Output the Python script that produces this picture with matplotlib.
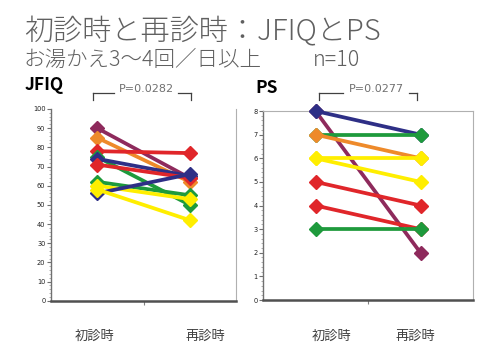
import matplotlib
matplotlib.use("Agg")
import matplotlib.pyplot as plt
from matplotlib.ticker import MultipleLocator

plt.rcParams['font.family'] = ['Noto Sans CJK JP', 'DejaVu Sans']

categories = ["初診時", "再診時"]
title = "初診時と再診時：JFIQとPS"
subtitle = "お湯かえ3〜4回／日以上"
n_label = "n=10"

jfiq_colors = ["#8E2A5C", "#EE8A2A", "#E0262A", "#1E9A3C", "#2E2F86",
               "#E0262A", "#1E9A3C", "#FFEE00", "#2E2F86", "#FFEE00"]
jfiq_first = [90, 85, 78, 75, 74, 71, 62, 60, 56, 58]
jfiq_second = [64, 62, 77, 50, 65, 64, 55, 53, 66, 42]

ps_colors = ["#8E2A5C", "#2E2F86", "#1E9A3C", "#EE8A2A", "#FFEE00",
             "#FFEE00", "#E0262A", "#E0262A", "#1E9A3C"]
ps_first = [8, 8, 7, 7, 6, 6, 5, 4, 3]
ps_second = [2, 7, 7, 6, 6, 5, 4, 3, 3]

p_jfiq = "P=0.0282"
p_ps = "P=0.0277"

fig = plt.figure(figsize=(5.0, 3.59), dpi=100)

def style_axes(ax, ymax, major, minor, right_top):
    ax.set_xlim(0, 2)
    ax.set_ylim(0, ymax)
    ax.yaxis.set_major_locator(MultipleLocator(major))
    ax.yaxis.set_minor_locator(MultipleLocator(minor))
    ax.set_xticks([1])
    ax.set_xticklabels([])
    ax.tick_params(axis='x', length=3, width=0.8, color='#808080', direction='out')
    ax.tick_params(axis='y', which='major', length=3, width=0.8, color='#707070',
                   labelsize=4.8, labelcolor='#202020', pad=1)
    ax.tick_params(axis='y', which='minor', length=1.5, width=0.5, color='#909090')
    ax.spines['left'].set_color('#707070')
    ax.spines['left'].set_linewidth(1.0)
    ax.spines['bottom'].set_color('#505050')
    ax.spines['bottom'].set_linewidth(1.8)
    ax.spines['right'].set_color('#B0B0B0')
    ax.spines['right'].set_linewidth(0.8)
    ax.spines['top'].set_color('#B0B0B0')
    ax.spines['top'].set_linewidth(0.8)
    ax.spines['top'].set_visible(right_top)
    for lab in ax.get_yticklabels():
        lab.set_family('DejaVu Sans')

def draw(ax, firsts, seconds, colors):
    for a, b, c in zip(firsts, seconds, colors):
        ax.plot([0.5, 1.5], [a, b], color=c, lw=2.7, marker='D', ms=7,
                markeredgecolor=c, solid_capstyle='round', clip_on=False, zorder=3)

ax1 = fig.add_axes([0.102, 0.1624, 0.37, 0.534])
style_axes(ax1, 100, 10, 2, False)
draw(ax1, jfiq_first, jfiq_second, jfiq_colors)

ax2 = fig.add_axes([0.526, 0.1643, 0.42, 0.5265])
style_axes(ax2, 8, 1, 0.2, True)
draw(ax2, ps_first, ps_second, ps_colors)

# Title texts
fig.text(0.048, 1 - 32 / 359, title, fontsize=21, color='#606060', va='center', ha='left',
         fontweight='light')
fig.text(0.048, 1 - 60 / 359, subtitle, fontsize=15.5, color='#606060', va='center', ha='left',
         fontweight='light')
fig.text(313 / 500, 1 - 60 / 359, n_label, fontsize=15.5, color='#606060', va='center', ha='left',
         fontweight='light')
fig.text(25 / 500, 1 - 85 / 359, "JFIQ", fontsize=12.5, fontweight='bold', color='black', va='center', ha='left')
fig.text(255 / 500, 1 - 88 / 359, "PS", fontsize=12.5, fontweight='bold', color='black', va='center', ha='left')

def bracket(x0, x1, ytop, ybot, label, tx0, tx1):
    c = '#404040'
    fig.add_artist(plt.Line2D([x0 / 500, x0 / 500], [1 - ybot / 359, 1 - ytop / 359], color=c, lw=0.9))
    fig.add_artist(plt.Line2D([x1 / 500, x1 / 500], [1 - ybot / 359, 1 - ytop / 359], color=c, lw=0.9))
    fig.add_artist(plt.Line2D([x0 / 500, tx0 / 500], [1 - ytop / 359] * 2, color=c, lw=0.9))
    fig.add_artist(plt.Line2D([tx1 / 500, x1 / 500], [1 - ytop / 359] * 2, color=c, lw=0.9))
    fig.text((tx0 + tx1) / 2 / 500, 1 - 89 / 359, label, fontsize=8, color='#707070',
             ha='center', va='center', family='DejaVu Sans')

bracket(93, 191, 93, 100, p_jfiq, 114, 178)
bracket(319, 417, 93, 100, p_ps, 343, 409)

# Category labels
for xc, lab in [(95, categories[0]), (205, categories[1]), (332, categories[0]), (415, categories[1])]:
    fig.text(xc / 500, 1 - 336 / 359, lab, fontsize=9.5, color='#404040', ha='center', va='center')

fig.savefig("out.png", dpi=100)
